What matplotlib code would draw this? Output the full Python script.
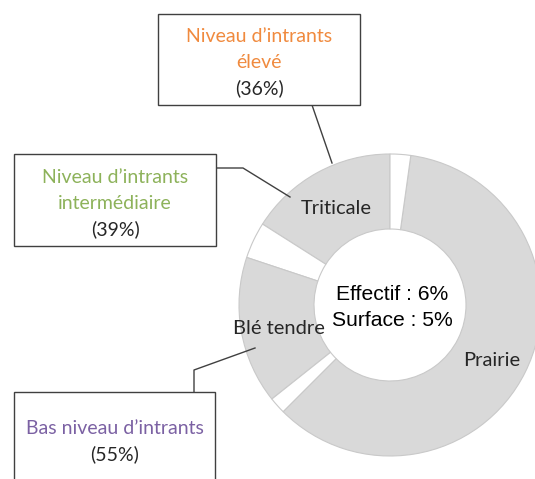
import matplotlib.pyplot as plt
from matplotlib.patches import Rectangle

# parts of the ring, counter-clockwise from the top
segments = ['Triticale', 'autre_1', 'Blé tendre', 'autre_2', 'Prairie', 'autre_3']
shares = [16.0, 3.9, 15.8, 1.8, 60.3, 2.2]
seg_colors = ['#d9d9d9', 'white', '#d9d9d9', 'white', '#d9d9d9', 'white']

centre_lines = ['Effectif : 6%', 'Surface : 5%']

box_titles = [["Niveau d\u2019intrants", "élevé"],
              ["Niveau d\u2019intrants", "intermédiaire"],
              ["Bas niveau d\u2019intrants"]]
box_pct = ['(36%)', '(39%)', '(55%)']
box_colors = ['#f08a3e', '#8db25a', '#7b61a3']

W, H = 535, 479
fig = plt.figure(figsize=(W / 100, H / 100), dpi=100)
ax = fig.add_axes([0, 0, 1, 1])
ax.set_xlim(0, W)
ax.set_ylim(0, H)
ax.set_aspect('equal')
ax.axis('off')


def py(y):
    # pixel rows counted from the top
    return H - y


ax.pie(shares, colors=seg_colors, startangle=90, counterclock=True,
       center=(390, py(305)), radius=151,
       wedgeprops=dict(width=75, edgecolor='#c9c9c9', linewidth=0.8))
ax.set_xlim(0, W)
ax.set_ylim(0, H)

label_font = ['Lato', 'DejaVu Sans']
dark = '#262626'
fs = 14

ax.text(336, py(208), 'Triticale', ha='center', va='center', fontsize=14.5,
        family=label_font, color=dark)
ax.text(279, py(329), 'Blé tendre', ha='center', va='center', fontsize=14.5,
        family=label_font, color=dark)
ax.text(492, py(360), 'Prairie', ha='center', va='center', fontsize=14.5,
        family=label_font, color=dark)

for i, line in enumerate(centre_lines):
    ax.text(392, py(295 + 25 * i), line, ha='center', va='center',
            fontsize=15.2, family='Liberation Sans', color='black')

# callout boxes: (left, top, right, bottom), first text row, centre x
boxes = [(158, 14, 360, 105, 36, 259),
         (14, 154, 216, 246, 177, 115),
         (14, 392, 215, 490, 428, 115)]
for (x0, y0, x1, y1, ty, cx), titles, pct, col in zip(boxes, box_titles, box_pct, box_colors):
    ax.add_patch(Rectangle((x0, py(y1)), x1 - x0, y1 - y0, facecolor='white',
                           edgecolor='#404040', linewidth=1.0, zorder=3, clip_on=False))
    rows = titles + [pct]
    for k, row in enumerate(rows):
        ax.text(cx, py(ty + 26 * k), row, ha='center', va='center', fontsize=fs,
                family=label_font, color=col if k < len(titles) else dark, zorder=4)

# leader lines from the boxes to the ring
leaders = [([312, 332], [105, 163]),
           ([216, 243, 290], [168, 168, 197]),
           ([194, 194, 255], [392, 370, 348])]
for xs, ys in leaders:
    ax.plot(xs, [py(v) for v in ys], color='#404040', linewidth=1.0, zorder=2)

fig.savefig('out.png', dpi=100)
